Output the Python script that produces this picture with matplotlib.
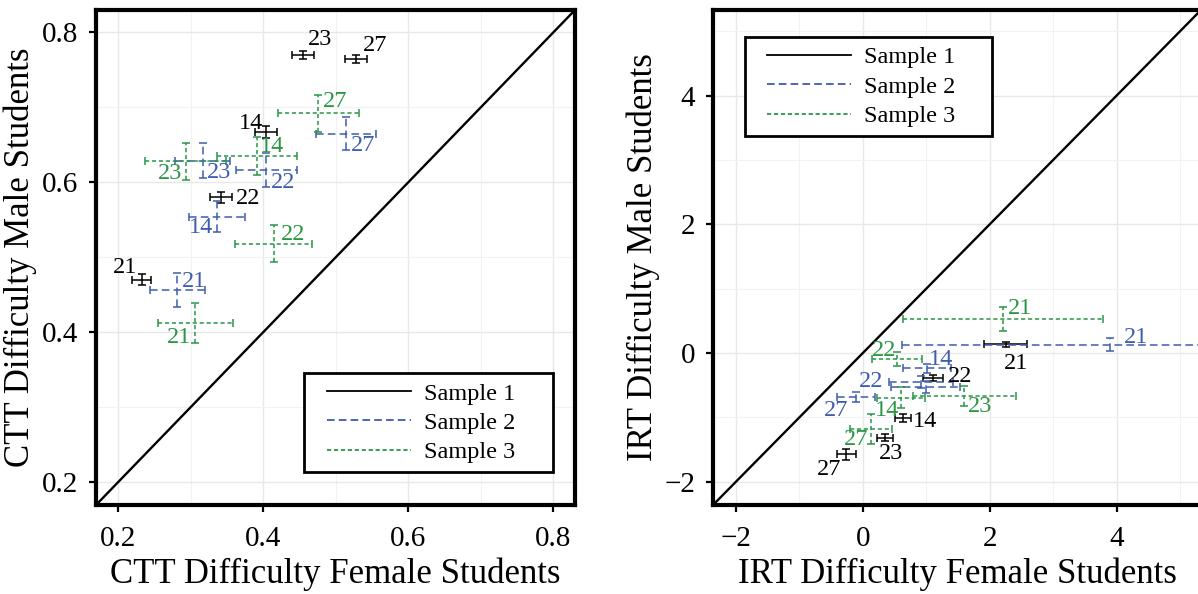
import matplotlib
matplotlib.use("Agg")
import matplotlib.pyplot as plt
from matplotlib.lines import Line2D
from matplotlib.patches import Rectangle
from matplotlib.ticker import MultipleLocator, FormatStrFormatter

plt.rcParams["font.family"] = ["Liberation Serif", "DejaVu Serif"]
plt.rcParams["lines.scale_dashes"] = False

# item numbers, same order in every list below
items = ["14", "21", "22", "23", "27"]
samples = ["Sample 1", "Sample 2", "Sample 3"]

# CTT difficulty (one row per sample)
ctt_female = [[0.404, 0.232, 0.341, 0.455, 0.528],
              [0.336, 0.281, 0.404, 0.316, 0.514],
              [0.391, 0.306, 0.414, 0.293, 0.476]]
ctt_female_se = [[0.015, 0.013, 0.015, 0.015, 0.015],
                 [0.039, 0.038, 0.042, 0.038, 0.041],
                 [0.055, 0.052, 0.053, 0.056, 0.056]]
ctt_male = [[0.667, 0.470, 0.580, 0.770, 0.765],
            [0.554, 0.456, 0.616, 0.629, 0.665],
            [0.635, 0.412, 0.518, 0.628, 0.692]]
ctt_male_se = [[0.0076, 0.0077, 0.0073, 0.0053, 0.0053],
               [0.021, 0.023, 0.023, 0.023, 0.022],
               [0.026, 0.027, 0.025, 0.025, 0.025]]

# IRT difficulty (one row per sample)
irt_female = [[0.634, 2.25, 1.114, 0.349, -0.258],
              [1.01, 3.90, 0.92, 0.99, -0.111],
              [0.602, 2.21, 0.534, 1.60, 0.127]]
irt_female_se = [[0.124, 0.333, 0.158, 0.132, 0.147],
                 [0.38, 3.28, 0.50, 0.55, 0.296],
                 [0.377, 1.58, 0.393, 0.813, 0.33]]
irt_male = [[-1.012, 0.14, -0.385, -1.313, -1.573],
            [-0.238, 0.13, -0.45, -0.53, -0.681],
            [-0.69, 0.53, -0.093, -0.665, -1.179]]
irt_male_se = [[0.065, 0.04, 0.045, 0.06, 0.089],
               [0.075, 0.104, 0.09, 0.09, 0.078],
               [0.16, 0.18, 0.114, 0.153, 0.234]]

# label placement (offset in pixels from the point), None = no label
ctt_offsets = [[(-15, 9), (-17, 12), (27, -1), (17, 15), (19, 13)],
               [(-16, -11), (17, 9), (17, -12), (17, -12), (17, -12)],
               [(15, 10), (-16, -14), (20, 9), (-16, -12), (17, 12)]]
irt_offsets = [[(22, -3), (11, -19), (27, 1), (6, -16), (-17, -15)],
               [(14, 9), (26, 7), (-50, 1), None, (-20, -14)],
               [(-14, -13), (17, 10), (-13, 9), (16, -11), (-15, -11)]]

colors = ["black", "#3F5DAD", "#2A9646"]
dashes = ["solid", (0, (5.5, 3)), (0, (3, 2))]

fig = plt.figure(figsize=(11.98, 5.94), dpi=100)
W, H = 1198, 594
ax1 = fig.add_axes([96 / W, 1 - 505 / H, 479 / W, 495 / H])
ax2 = fig.add_axes([713 / W, 1 - 505 / H, 488 / W, 495 / H])


def panel(ax, xs, xse, ys, yse, offsets, lim, major, minor, fmt, xlabel, ylabel):
    ax.set_xlim(lim)
    ax.set_ylim(lim)
    ax.xaxis.set_major_locator(MultipleLocator(major))
    ax.yaxis.set_major_locator(MultipleLocator(major))
    ax.xaxis.set_minor_locator(MultipleLocator(minor))
    ax.yaxis.set_minor_locator(MultipleLocator(minor))
    if fmt:
        ax.xaxis.set_major_formatter(FormatStrFormatter(fmt))
        ax.yaxis.set_major_formatter(FormatStrFormatter(fmt))
    ax.grid(which="major", color="#E8E8E8", lw=1.0, zorder=0)
    ax.grid(which="minor", color="#F2F2F2", lw=0.8, zorder=0)
    ax.set_axisbelow(True)
    ax.tick_params(which="major", direction="out", length=5, width=1.6,
                   labelsize=21, color="black")
    ax.tick_params(axis="x", which="major", pad=10)
    ax.tick_params(axis="y", which="major", pad=8)
    ax.tick_params(which="minor", length=0)
    for sp in ax.spines.values():
        sp.set_linewidth(3.0)
        sp.set_color("black")
    ax.axline((0, 0), slope=1, color="black", lw=1.7, zorder=1)

    for s in range(3):
        eb = ax.errorbar(xs[s], ys[s], xerr=xse[s], yerr=yse[s], fmt="none",
                         ecolor=colors[s], elinewidth=1.1, capsize=2.6,
                         capthick=1.1, zorder=3)
        for coll in eb[2]:
            coll.set_linestyle(dashes[s])
        for i, lab in enumerate(items):
            off = offsets[s][i]
            if off is None:
                continue
            ax.annotate(lab, (xs[s][i], ys[s][i]), xytext=off,
                        textcoords="offset pixels", ha="center", va="center",
                        fontsize=17.5, color=colors[s], zorder=4)

    ax.set_xlabel(xlabel, fontsize=25, labelpad=4)
    ax.set_ylabel(ylabel, fontsize=25, labelpad=3)


panel(ax1, ctt_female, ctt_female_se, ctt_male, ctt_male_se, ctt_offsets,
      (0.169, 0.830), 0.2, 0.1, "%.1f",
      "CTT Difficulty Female Students", "CTT Difficulty Male Students")
panel(ax2, irt_female, irt_female_se, irt_male, irt_male_se, irt_offsets,
      (-2.36, 5.33), 2, 1, None,
      "IRT Difficulty Female Students", "IRT Difficulty Male Students")

handles = [Line2D([], [], color=colors[s], linestyle=dashes[s], lw=1.3)
           for s in range(3)]
leg_kw = dict(fontsize=17.5, frameon=False, handlelength=3.45,
              handletextpad=0.55, labelspacing=0.3, borderpad=0,
              borderaxespad=0, loc="center left")

# legend 1: lower right of the CTT panel, legend 2: upper left of the IRT panel
ax1.legend(handles, samples, bbox_to_anchor=(0.482, 0.166), **leg_kw)
ax1.add_patch(Rectangle((0.434, 0.067), 0.520, 0.200, transform=ax1.transAxes,
                        facecolor="white", edgecolor="black", lw=2.0, zorder=5))
ax2.legend(handles, samples, bbox_to_anchor=(0.111, 0.845), **leg_kw)
ax2.add_patch(Rectangle((0.066, 0.746), 0.506, 0.200, transform=ax2.transAxes,
                        facecolor="white", edgecolor="black", lw=2.0, zorder=5))

fig.savefig("out.png", dpi=100)
